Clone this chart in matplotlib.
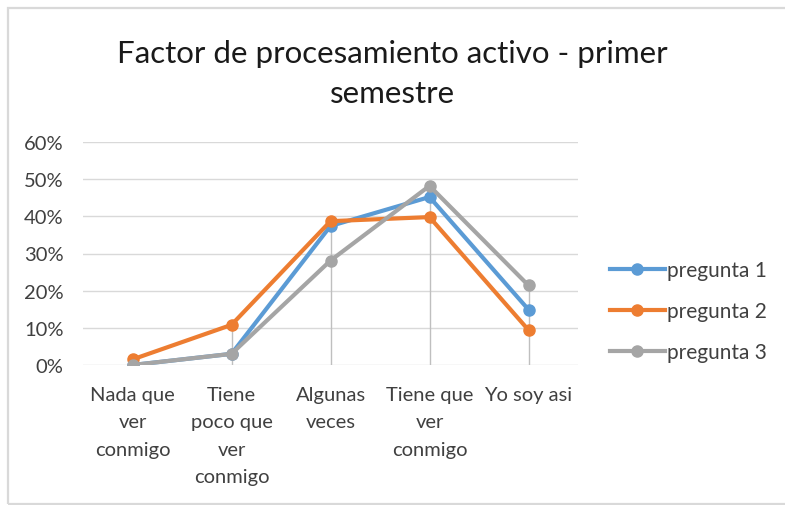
import matplotlib.pyplot as plt
import numpy as np
from matplotlib.patches import Rectangle
from matplotlib.ticker import PercentFormatter

plt.rcParams['font.family'] = ['Lato', 'DejaVu Sans']

categories = ["Nada que\nver\nconmigo", "Tiene\npoco que\nver\nconmigo",
              "Algunas\nveces", "Tiene que\nver\nconmigo", "Yo soy asi"]
pregunta1 = [0.0, 0.03, 0.374, 0.452, 0.149]
pregunta2 = [0.015, 0.108, 0.387, 0.398, 0.094]
pregunta3 = [0.0, 0.03, 0.281, 0.482, 0.214]
series_names = ["pregunta 1", "pregunta 2", "pregunta 3"]
colors = ["#5B9BD5", "#ED7D31", "#A5A5A5"]


def main():
    fig = plt.figure(figsize=(7.85, 5.06), dpi=100)
    ax = fig.add_axes([83 / 785, 140 / 506, 495 / 785, 223 / 506])

    #chart area outline (runs off the right edge)
    fig.patches.append(Rectangle((8 / 785, 1.5 / 506), 800 / 785, 496 / 506,
                                 transform=fig.transFigure, fill=False,
                                 edgecolor="#D9D9D9", linewidth=1.6))

    x = np.arange(len(categories))
    all_series = [pregunta1, pregunta2, pregunta3]

    #drop lines from the highest point down to the axis
    tops = np.max(np.array(all_series), axis=0)
    ax.vlines(x, 0, tops, color="#BFBFBF", linewidth=1.0, zorder=1)

    for vals, name, c in zip(all_series, series_names, colors):
        ax.plot(x, vals, color=c, linewidth=3.0, marker="o", markersize=8,
                label=name, zorder=3)

    ax.set_xlim(-0.5, len(categories) - 0.5)
    ax.set_ylim(0, 0.6)
    ax.set_yticks(np.arange(0, 0.61, 0.1))
    ax.yaxis.set_major_formatter(PercentFormatter(1.0, decimals=0))
    ax.set_xticks(x)
    ax.set_xticklabels(categories, linespacing=1.75)
    ax.grid(axis="y", color="#D9D9D9", linewidth=1.0)
    ax.set_axisbelow(True)
    for s in ax.spines.values():
        s.set_visible(False)
    ax.tick_params(axis="both", length=0, labelsize=14.5, colors="#404040")
    ax.tick_params(axis="y", pad=14)
    ax.tick_params(axis="x", pad=15)

    fig.text(0.5, 432 / 506, "Factor de procesamiento activo - primer\nsemestre",
             ha="center", va="center", fontsize=22.5, color="#1a1a1a",
             linespacing=1.5)

    ax.legend(loc="center left", bbox_to_anchor=(602 / 785, (506 - 312) / 506),
              bbox_transform=fig.transFigure, frameon=False, fontsize=15,
              handlelength=2.6, labelspacing=1.0, handletextpad=0.1,
              labelcolor="#404040", borderaxespad=0)

    fig.savefig("out.png", dpi=100)


if __name__ == "__main__":
    main()
